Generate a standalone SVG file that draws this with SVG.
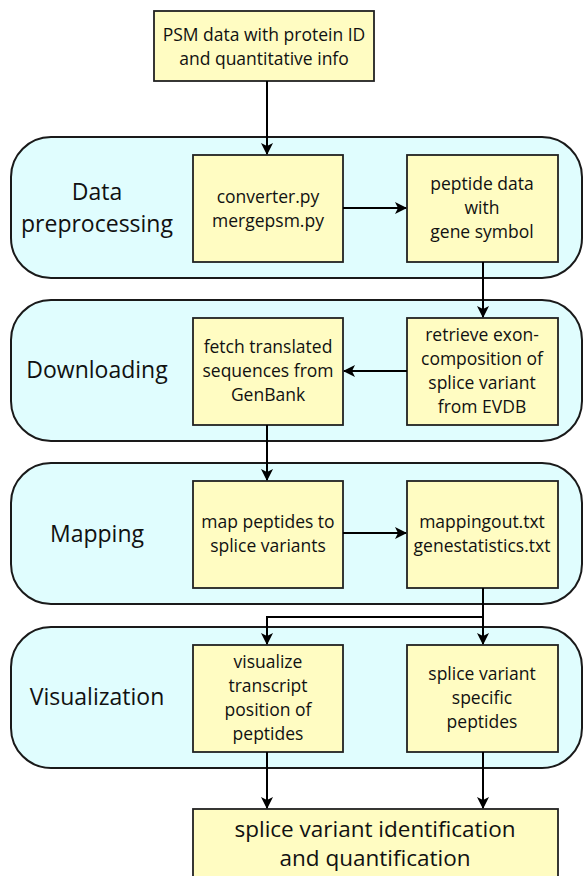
<svg xmlns="http://www.w3.org/2000/svg" width="583" height="876" viewBox="0 0 583 876">
<defs>
<marker id="ah" markerWidth="12" markerHeight="12" refX="11" refY="6" orient="auto" markerUnits="userSpaceOnUse">
<path d="M0,0 L12,6 L0,12 L3,6 Z" fill="#000"/>
</marker>
<style>
.stage{fill:#E0FDFE;stroke:#1a1a1a;stroke-width:2}
.box{fill:#FFFCC2;stroke:#222;stroke-width:1.8}
.t{font-family:"Open Sans","Liberation Sans",sans-serif;font-size:17.5px;fill:#111;text-anchor:middle}
.s{font-family:"Open Sans","Liberation Sans",sans-serif;font-size:23px;fill:#111;text-anchor:middle}
.b{font-family:"Open Sans","Liberation Sans",sans-serif;font-size:22.5px;fill:#111;text-anchor:middle}
.c{fill:none;stroke:#000;stroke-width:2}
</style>
</defs>
<rect width="583" height="876" fill="#fff"/>
<g id="stage1"><rect class="stage" x="11" y="137" width="571" height="141" rx="40"/><text class="s" x="97" y="200">Data</text><text class="s" x="97" y="232">preprocessing</text></g>
<g id="stage2"><rect class="stage" x="11" y="300" width="571" height="141" rx="40"/><text class="s" x="97" y="378">Downloading</text></g>
<g id="stage3"><rect class="stage" x="11" y="463" width="571" height="141" rx="40"/><text class="s" x="97" y="542">Mapping</text></g>
<g id="stage4"><rect class="stage" x="11" y="627" width="571" height="141" rx="40"/><text class="s" x="97" y="705">Visualization</text></g>

<g id="psm"><rect class="box" x="154" y="11" width="220" height="70"/><text class="t" x="264" y="41">PSM data with protein ID</text><text class="t" x="264" y="65">and quantitative info</text></g>
<g id="converter"><rect class="box" x="193" y="155" width="150" height="107"/><text class="t" x="268" y="203">converter.py</text><text class="t" x="268" y="227">mergepsm.py</text></g>
<g id="peptide"><rect class="box" x="407" y="155" width="151" height="107"/><text class="t" x="482" y="190">peptide data</text><text class="t" x="482" y="214">with</text><text class="t" x="482" y="238">gene symbol</text></g>
<g id="fetch"><rect class="box" x="193" y="318" width="150" height="107"/><text class="t" x="268" y="353">fetch translated</text><text class="t" x="268" y="377">sequences from</text><text class="t" x="268" y="401">GenBank</text></g>
<g id="retrieve"><rect class="box" x="407" y="318" width="151" height="107"/><text class="t" x="482" y="341">retrieve exon-</text><text class="t" x="482" y="365">composition of</text><text class="t" x="482" y="389">splice variant</text><text class="t" x="482" y="413">from EVDB</text></g>
<g id="map"><rect class="box" x="193" y="481" width="150" height="107"/><text class="t" x="268" y="528">map peptides to</text><text class="t" x="268" y="552">splice variants</text></g>
<g id="mappingout"><rect class="box" x="407" y="481" width="151" height="107"/><text class="t" x="482" y="528">mappingout.txt</text><text class="t" x="482" y="552">genestatistics.txt</text></g>
<g id="visualize"><rect class="box" x="193" y="645" width="150" height="107"/><text class="t" x="268" y="668">visualize</text><text class="t" x="268" y="692">transcript</text><text class="t" x="268" y="716">position of</text><text class="t" x="268" y="740">peptides</text></g>
<g id="specific"><rect class="box" x="407" y="645" width="151" height="107"/><text class="t" x="482" y="680">splice variant</text><text class="t" x="482" y="704">specific</text><text class="t" x="482" y="728">peptides</text></g>
<g id="result"><rect class="box" x="193" y="809" width="365" height="80"/><text class="b" x="375" y="837">splice variant identification</text><text class="b" x="375" y="866">and quantification</text></g>

<g id="connectors">
<path class="c" d="M267,81 V154" marker-end="url(#ah)"/>
<path class="c" d="M343,208 H406" marker-end="url(#ah)"/>
<path class="c" d="M483,262 V317" marker-end="url(#ah)"/>
<path class="c" d="M407,371 H344" marker-end="url(#ah)"/>
<path class="c" d="M267,425 V480" marker-end="url(#ah)"/>
<path class="c" d="M343,533 H406" marker-end="url(#ah)"/>
<path class="c" d="M483,588 V644" marker-end="url(#ah)"/>
<path class="c" d="M483,617 H267 V644" marker-end="url(#ah)"/>
<path class="c" d="M267,752 V808" marker-end="url(#ah)"/>
<path class="c" d="M483,752 V808" marker-end="url(#ah)"/>
</g>
</svg>
